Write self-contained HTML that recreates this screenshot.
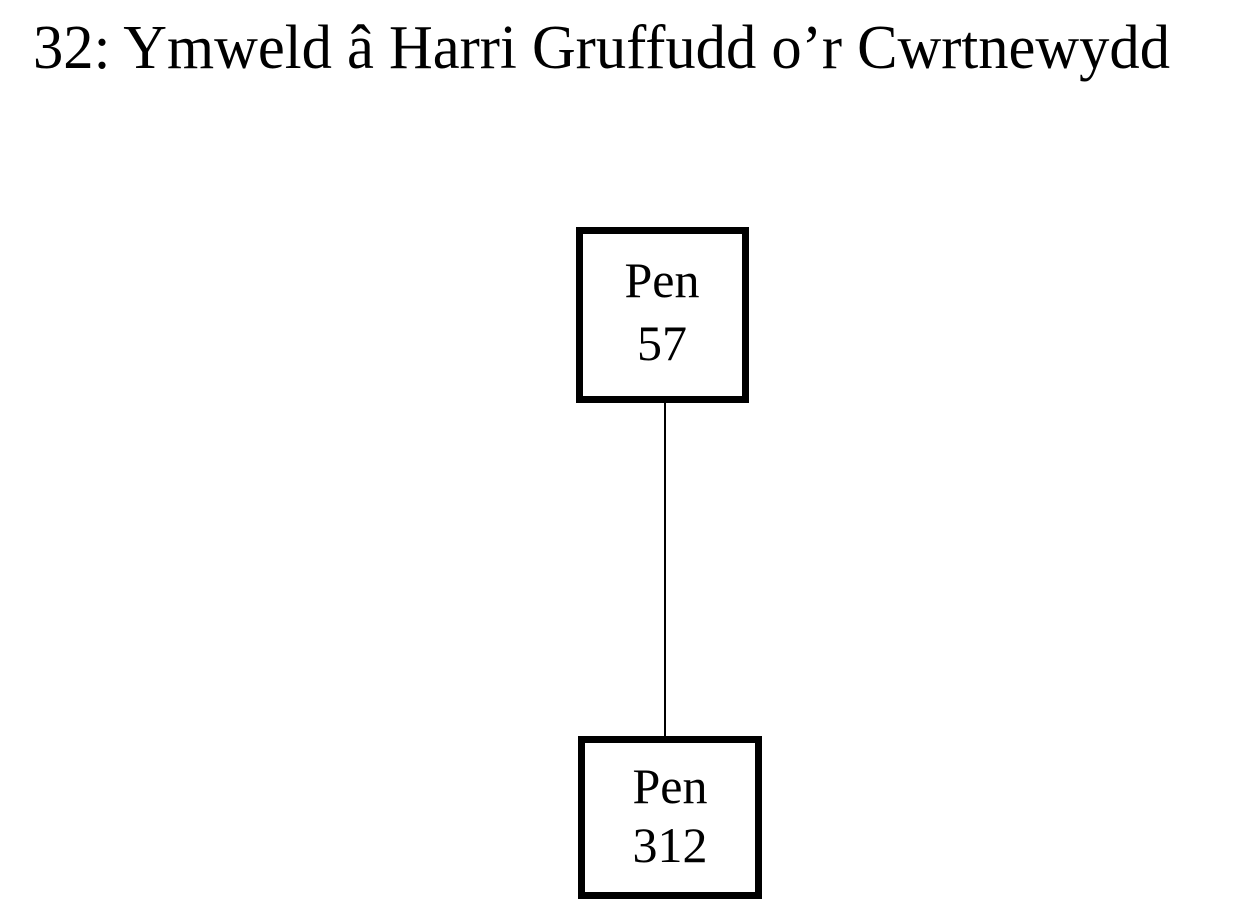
<!DOCTYPE html>
<html><head><meta charset="utf-8"><style>html,body{margin:0;padding:0;background:#fff;}svg{display:block}</style></head>
<body>
<svg width="1235" height="909" xmlns="http://www.w3.org/2000/svg" font-family="'Liberation Serif', serif">
<text x="33" y="68" font-size="62" textLength="1137" lengthAdjust="spacingAndGlyphs">32: Ymweld â Harri Gruffudd o’r Cwrtnewydd</text>
<line x1="665" y1="403" x2="665" y2="736" stroke="#000" stroke-width="2"/>
<rect x="579.5" y="230.5" width="166" height="169" fill="#fff" stroke="#000" stroke-width="7"/>
<text x="662" y="297" font-size="50" text-anchor="middle">Pen</text>
<text x="662" y="360" font-size="50" text-anchor="middle">57</text>
<rect x="581.5" y="739.5" width="177" height="156" fill="#fff" stroke="#000" stroke-width="7"/>
<text x="670" y="803" font-size="50" text-anchor="middle">Pen</text>
<text x="670" y="862" font-size="50" text-anchor="middle">312</text>
</svg>
</body></html>
